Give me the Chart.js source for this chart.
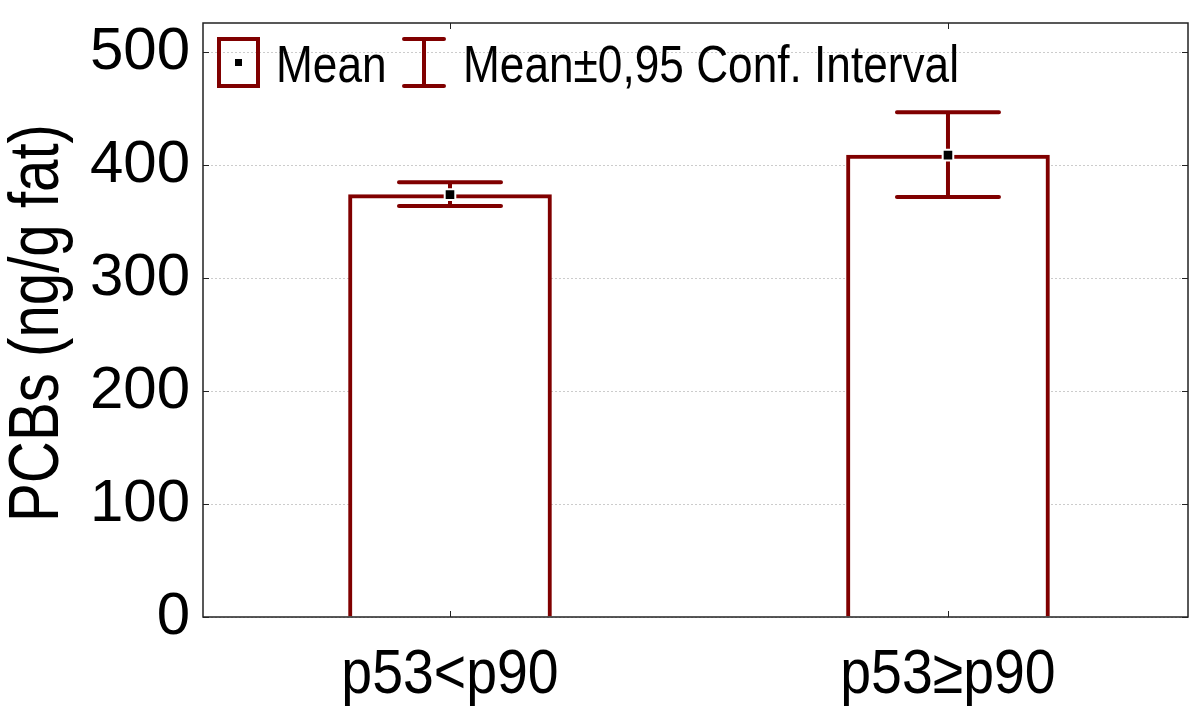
<!DOCTYPE html>
<html>
<head>
<meta charset="utf-8">
<script src="https://cdn.jsdelivr.net/npm/chart.js@4.4.0/dist/chart.umd.min.js"></script>
<style>
html, body { margin: 0; padding: 0; background: #fff; }
</style>
</head>
<body>
<canvas id="myChart" width="1200" height="717"></canvas>
<script>
// data
const groups = ['p53<p90', 'p53\u2265p90'];
const means = [374, 409];
const ciLow = [364, 372];
const ciHigh = [385, 447];
const yTicks = [0, 100, 200, 300, 400, 500];
const yTitle = 'PCBs (ng/g fat)';

const darkRed = '#800000';
const wide = "'Liberation Sans', Arial, sans-serif";

// narrow text: no condensed face installed, so squeeze Liberation Sans
function narrowText(ctx, text, x, y, size, squeeze, align, angle) {
    ctx.save();
    ctx.font = size + 'px ' + wide;
    ctx.textBaseline = 'alphabetic';
    ctx.textAlign = align;
    ctx.translate(x, y);
    if (angle) ctx.rotate(angle);
    ctx.scale(squeeze, 1);
    ctx.fillText(text, 0, 0);
    ctx.restore();
}

// error bars, drawn right after the bars so the mean marker sits on top
const errorBars = {
    id: 'errorBars',
    afterDatasetDraw(chart, args) {
        if (args.index !== 0) return;
        const ctx = chart.ctx;
        const xs = chart.scales.x, ys = chart.scales.y;
        ctx.save();
        ctx.strokeStyle = darkRed;
        ctx.lineWidth = 4;
        ctx.lineCap = 'round';
        groups.forEach((g, i) => {
            const px = xs.getPixelForValue(i);
            const top = ys.getPixelForValue(ciHigh[i]);
            const bot = ys.getPixelForValue(ciLow[i]);
            ctx.beginPath();
            ctx.moveTo(px, top); ctx.lineTo(px, bot);
            ctx.moveTo(px - 51, top); ctx.lineTo(px + 51, top);
            ctx.moveTo(px - 51, bot); ctx.lineTo(px + 51, bot);
            ctx.stroke();
        });
        ctx.restore();
    }
};

// frame, inward tick marks, axis texts and the legend inside the plot
const frameAndLegend = {
    id: 'frameAndLegend',
    afterDraw(chart) {
        const ctx = chart.ctx;
        const a = chart.chartArea;
        const xs = chart.scales.x, ys = chart.scales.y;
        ctx.save();
        ctx.strokeStyle = '#222';
        ctx.lineWidth = 1.5;
        ctx.strokeRect(a.left, a.top, a.right - a.left, a.bottom - a.top);
        ctx.lineWidth = 1;
        ctx.beginPath();
        yTicks.forEach(v => {
            const py = Math.round(ys.getPixelForValue(v)) + 0.5;
            ctx.moveTo(a.left, py); ctx.lineTo(a.left + 6, py);
            ctx.moveTo(a.right, py); ctx.lineTo(a.right - 6, py);
        });
        groups.forEach((g, i) => {
            const px = Math.round(xs.getPixelForValue(i)) + 0.5;
            ctx.moveTo(px, a.bottom); ctx.lineTo(px, a.bottom - 6);
            ctx.moveTo(px, a.top); ctx.lineTo(px, a.top + 6);
        });
        ctx.stroke();

        // category labels and the y title
        ctx.fillStyle = '#000';
        groups.forEach((g, i) => {
            narrowText(ctx, g, xs.getPixelForValue(i), 693, 63, 0.88, 'center');
        });
        narrowText(ctx, yTitle, 58, 323, 71, 0.82, 'center', -Math.PI / 2);

        // legend
        ctx.strokeStyle = darkRed;
        ctx.lineWidth = 4;
        ctx.strokeRect(219, 39, 39, 47);
        ctx.fillStyle = '#000';
        ctx.fillRect(235, 59, 7, 7);
        ctx.lineCap = 'round';
        ctx.beginPath();
        ctx.moveTo(424, 39); ctx.lineTo(424, 86);
        ctx.moveTo(404, 39); ctx.lineTo(444, 39);
        ctx.moveTo(404, 86); ctx.lineTo(444, 86);
        ctx.stroke();
        narrowText(ctx, 'Mean', 276, 82, 52, 0.85, 'left');
        narrowText(ctx, 'Mean\u00b10,95 Conf. Interval', 463, 82, 52, 0.85, 'left');
        ctx.restore();
    }
};

const ctx = document.getElementById('myChart').getContext('2d');
const myChart = new Chart(ctx, {
    type: 'bar',
    data: {
        datasets: [{
            type: 'bar',
            label: 'Mean',
            data: groups.map((g, i) => ({ x: i, y: means[i] })),
            backgroundColor: '#fff',
            borderColor: darkRed,
            borderWidth: 4,
            borderSkipped: 'bottom',
            barThickness: 203,
            order: 2
        }, {
            type: 'line',
            label: 'Mean marker',
            data: groups.map((g, i) => ({ x: i, y: means[i] })),
            showLine: false,
            pointStyle: 'rect',
            pointRadius: 7.5,
            pointBackgroundColor: '#000',
            pointBorderColor: '#fff',
            pointBorderWidth: 2,
            order: 1
        }]
    },
    options: {
        responsive: false,
        devicePixelRatio: 1,
        animation: false,
        layout: { padding: { top: 23, right: 12, left: 0, bottom: 0 } },
        plugins: {
            legend: { display: false },
            tooltip: { enabled: false }
        },
        scales: {
            x: {
                type: 'linear',
                offset: false,
                bounds: 'data',
                min: -0.496,
                max: 1.482,
                afterFit: scale => {
                    scale.height = 100;
                    scale.paddingLeft = 0;
                    scale.paddingRight = 0;
                },
                grid: { display: false, drawTicks: false },
                border: { display: false },
                ticks: { display: false }
            },
            y: {
                min: 0,
                max: 526,
                afterBuildTicks: scale => { scale.ticks = yTicks.map(v => ({ value: v })); },
                afterFit: scale => {
                    scale.width = 203;
                    scale.paddingTop = 0;
                    scale.paddingBottom = 0;
                },
                grid: { color: '#cccccc', lineWidth: 1, drawTicks: false },
                border: { display: false, dash: [2, 2] },
                ticks: {
                    color: '#000',
                    padding: 13,
                    font: { family: wide, size: 60 }
                }
            }
        }
    },
    plugins: [errorBars, frameAndLegend]
});
</script>
</body>
</html>
